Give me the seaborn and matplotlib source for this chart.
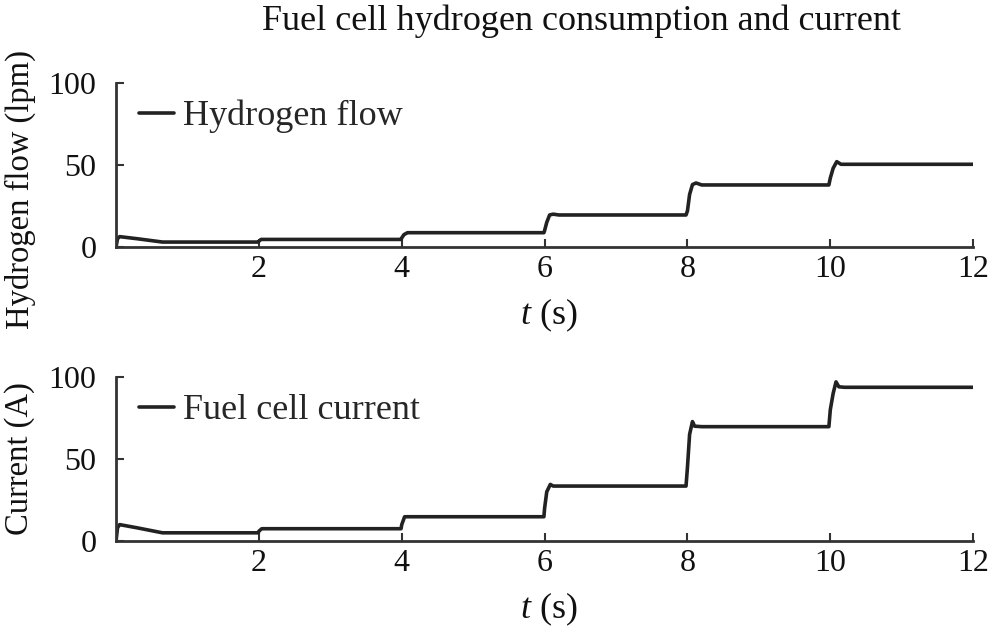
import matplotlib
matplotlib.use("Agg")
import matplotlib.pyplot as plt
import seaborn as sns
import pandas as pd

# ---- data ----
t_h2 = [0, 0.02, 0.05, 0.3, 0.65, 1.99, 2.0, 2.03, 3.99, 4.0, 4.03, 4.08, 5.99, 6.0, 6.03,
        6.07, 6.12, 6.2, 7.98, 8.0, 8.03, 8.07, 8.12, 8.2, 9.98, 10.0, 10.04, 10.09, 10.15,
        10.25, 12.0]
h2_flow = [0, 5, 6.3, 5, 3, 3, 3.5, 4.6, 4.6, 5.5, 7.5, 8.7, 8.7, 10, 15, 19.5, 20, 19.5,
           19.5, 22, 32, 38, 39, 37.8, 37.8, 42, 48, 52, 50.4, 50.4, 50.4]

t_cur = [0, 0.02, 0.05, 0.3, 0.65, 1.99, 2.0, 2.04, 3.99, 4.0, 4.04, 5.99, 6.0, 6.03, 6.08,
         6.12, 6.2, 7.98, 8.0, 8.03, 8.07, 8.1, 8.2, 9.98, 10.0, 10.04, 10.08, 10.12, 10.2,
         12.0]
current = [0, 8, 10, 8, 5, 5, 6, 7.5, 7.5, 10, 14.8, 14.8, 20, 30, 34.5, 33.5, 33.5, 33.5,
           45, 65, 72.8, 70, 69.7, 69.7, 80, 90, 97, 94, 93.7, 93.7]

title = "Fuel cell hydrogen consumption and current"
x_ticks = [2, 4, 6, 8, 10, 12]
y_ticks = [0, 50, 100]

sns.set_theme(style="ticks")
plt.rcParams["font.family"] = ["Liberation Serif", "DejaVu Serif"]
plt.rcParams["mathtext.fontset"] = "custom"
plt.rcParams["mathtext.it"] = "Liberation Serif:italic"
plt.rcParams["mathtext.rm"] = "Liberation Serif"

fig = plt.figure(figsize=(9.92, 6.31), dpi=100)
ax1 = fig.add_axes([0.117, 0.6086, 0.864, 0.26])
ax2 = fig.add_axes([0.117, 0.1426, 0.864, 0.26])

df1 = pd.DataFrame({"t": t_h2, "v": h2_flow})
df2 = pd.DataFrame({"t": t_cur, "v": current})

sns.lineplot(data=df1, x="t", y="v", ax=ax1, color="#222222", lw=2.6,
             label="Hydrogen flow", sort=False)
sns.lineplot(data=df2, x="t", y="v", ax=ax2, color="#222222", lw=2.6,
             label="Fuel cell current", sort=False)

fs_tick = 23
fs_lab = 26
txt = "#111111"
for ax, ylab, ycen in [(ax1, "Hydrogen flow (lpm)", 0.35), (ax2, "Current (A)", 0.5)]:
    ax.set_xlim(0, 12)
    ax.set_ylim(0, 100)
    ax.set_xticks(x_ticks)
    ax.set_yticks(y_ticks)
    ax.tick_params(direction="in", length=6, width=1.5, colors="#333333",
                   labelsize=fs_tick, labelcolor=txt)
    ax.tick_params(axis="y", pad=14)
    ax.tick_params(axis="x", pad=6)
    for s in ["top", "right"]:
        ax.spines[s].set_visible(False)
    for s in ["left", "bottom"]:
        ax.spines[s].set_linewidth(2)
        ax.spines[s].set_color("#333333")
    ax.set_xlabel("$t$ (s)", fontsize=fs_lab, color=txt)
    ax.xaxis.set_label_coords(0.505, -0.30)
    ax.set_ylabel(ylab, fontsize=23.5, color=txt, va="center")
    ax.yaxis.set_label_coords(-0.112, ycen)
    ax.legend(loc="center left", frameon=False, fontsize=fs_lab, handlelength=0.95,
              handletextpad=0.25, borderaxespad=0.0, borderpad=0.0,
              bbox_to_anchor=(0.027, 0.795))
    ax.set_facecolor("white")

fig.text(0.586, 0.967, title, ha="center", va="center", fontsize=fs_lab, color=txt)
fig.savefig("out.png", dpi=100, facecolor="white")
